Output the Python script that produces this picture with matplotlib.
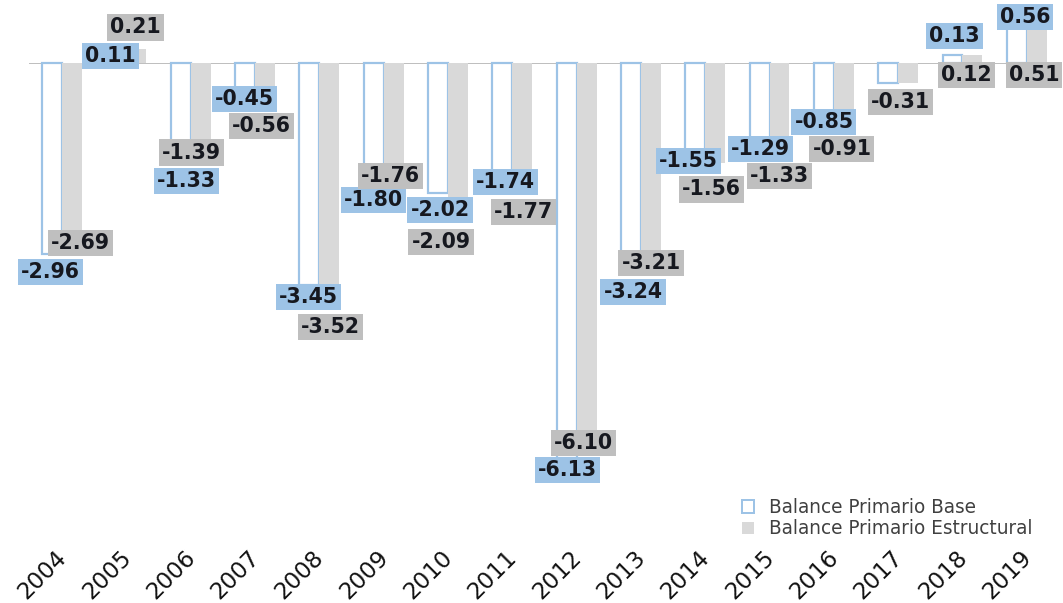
import matplotlib.pyplot as plt
from matplotlib.patches import Patch
import matplotlib.transforms as mtransforms
import numpy as np

years = ["2004", "2005", "2006", "2007", "2008", "2009", "2010", "2011",
         "2012", "2013", "2014", "2015", "2016", "2017", "2018", "2019"]
base = [-2.96, 0.11, -1.33, -0.45, -3.45, -1.80, -2.02, -1.74,
        -6.13, -3.24, -1.55, -1.29, -0.85, -0.31, 0.13, 0.56]
estructural = [-2.69, 0.21, -1.39, -0.56, -3.52, -1.76, -2.09, -1.77,
               -6.10, -3.21, -1.56, -1.33, -0.91, -0.31, 0.12, 0.51]

# label nudges (points, x right / y down) so the boxes don't pile up
base_nudge = [(-11, 18), (-15, 0), (-3, 32), (-10, 7), (-10, 12), (-9, 21), (-7, 17), (-6, 7),
              (-8, 12), (-7, 20), (-16, -2), (-8, 3), (-9, 4), (3, 19), (-7, -19), (-1, -10)]
estr_nudge = [(19, 7), (10, -22), (2, 0), (7, 27), (12, 37), (8, 0), (-6, 44), (12, 35),
              (8, -13), (11, -7), (7, 26), (11, 27), (9, 27), (3, 19), (5, 20), (8, 45)]

BLUE = "#9DC3E6"
BAR_GRAY = "#D9D9D9"
LABEL_GRAY = "#BFBFBF"
TEXT = "#16181f"

DPI = 72
fig = plt.figure(figsize=(1063 / DPI, 603 / DPI), dpi=DPI)
# axes in pixel terms: left 29, right 1058, top 0, bottom 545
ax = fig.add_axes([29 / 1063, 58 / 603, 1029 / 1063, 545 / 603])

x = np.arange(len(years))
w = 0.31
ax.bar(x - 0.14, base, width=w, facecolor="white", edgecolor=BLUE,
       linewidth=2.2, zorder=2)
ax.bar(x + 0.17, estructural, width=w, color=BAR_GRAY, zorder=3)

ax.axhline(0, color="#BFBFBF", linewidth=1, zorder=1)

ax.set_xlim(-0.5, 15.5)
ax.set_ylim(-7.484, 0.978)

def add_label(xi, val, nudge, face, z):
    dx, dy = nudge
    ax.annotate(f"{val:.2f}", xy=(xi, val), xytext=(dx, -dy),
                textcoords="offset points", ha="center", va="center",
                fontsize=20.5, fontweight="bold", color=TEXT, zorder=z,
                bbox=dict(boxstyle="square,pad=0.15", facecolor=face,
                          edgecolor="none"))

for i in range(len(years)):
    add_label(x[i], base[i], base_nudge[i], BLUE, 5)
for i in range(len(years)):
    add_label(x[i], estructural[i], estr_nudge[i], LABEL_GRAY, 6)

ax.set_xticks(x)
ax.set_xticklabels(years, rotation=45, ha="right", va="top",
                   rotation_mode="anchor", fontsize=23, color="#111111")
ax.tick_params(axis="x", length=0, pad=1)
shift = mtransforms.ScaledTranslation(-6 / 72, 0, fig.dpi_scale_trans)
for lbl in ax.get_xticklabels():
    lbl.set_transform(lbl.get_transform() + shift)
ax.set_yticks([])
for s in ax.spines.values():
    s.set_visible(False)

handles = [Patch(facecolor="white", edgecolor=BLUE, linewidth=2),
           Patch(facecolor=BAR_GRAY, edgecolor="none")]
fig.legend(handles, ["Balance Primario Base", "Balance Primario Estructural"],
           loc="upper left", bbox_to_anchor=(742 / 1063, 1 - 498 / 603),
           frameon=False, fontsize=18.5, handlelength=0.65, handleheight=0.65,
           handletextpad=0.8, labelspacing=0.12, borderpad=0, borderaxespad=0,
           labelcolor="#404040")

fig.savefig("out.png", dpi=DPI)
